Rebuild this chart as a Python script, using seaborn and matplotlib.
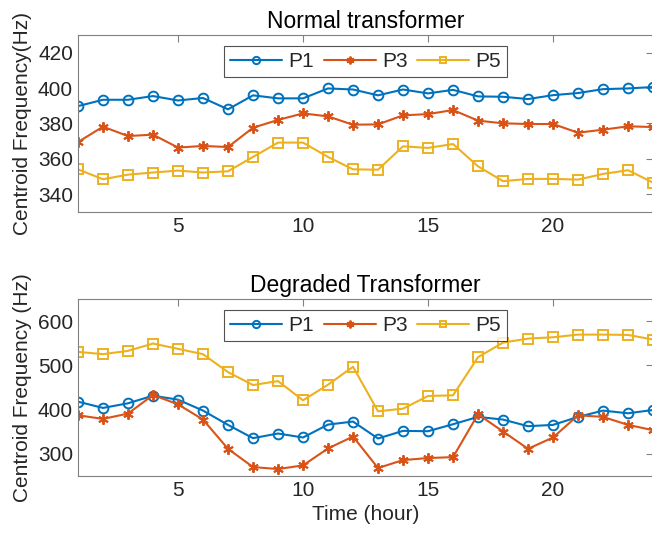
import matplotlib
matplotlib.use("Agg")
import matplotlib.pyplot as plt
import pandas as pd
import seaborn as sns

HOURS = list(range(1, 25))
SERIES = ["P1", "P3", "P5"]

NORMAL_P1 = [389.8, 393.4, 393.4, 395.5, 393.0, 394.4, 388.0, 395.9, 394.2, 394.2, 399.8, 399.2,
             395.9, 399.2, 397.0, 399.0, 395.3, 395.1, 393.8, 396.0, 397.2, 399.4, 399.8, 400.6]
NORMAL_P3 = [369.5, 378.2, 372.9, 373.7, 366.4, 367.3, 366.7, 377.6, 382.0, 385.7, 384.0, 379.3,
             379.5, 384.6, 385.3, 387.6, 381.6, 380.1, 379.7, 379.7, 374.8, 376.5, 378.4, 378.0]
NORMAL_P5 = [354.1, 348.5, 351.1, 352.3, 353.4, 352.3, 353.0, 361.1, 369.2, 369.2, 361.1, 354.1,
             353.9, 367.1, 366.2, 368.4, 355.8, 347.4, 348.7, 348.7, 348.3, 351.5, 353.6, 346.6]

DEGRADED_P1 = [418.0, 403.8, 414.3, 431.5, 422.5, 397.8, 365.5, 335.5, 346.0, 337.0, 366.2, 373.0,
               334.7, 352.0, 351.2, 367.0, 383.5, 377.5, 362.5, 365.5, 383.5, 397.8, 391.7, 399.2]
DEGRADED_P3 = [387.2, 379.0, 391.0, 433.0, 412.0, 377.5, 311.5, 270.2, 265.7, 274.0, 312.2, 339.2,
               268.0, 286.0, 290.5, 292.7, 389.5, 350.5, 311.5, 337.0, 387.2, 383.5, 365.5, 353.5]
DEGRADED_P5 = [530.5, 525.3, 532.8, 549.3, 537.3, 525.3, 484.8, 455.5, 464.5, 421.0, 456.3, 496.8,
               396.2, 402.2, 430.8, 432.3, 518.5, 551.5, 560.5, 563.5, 569.5, 569.5, 568.8, 558.3]

COLORS = {"P1": "#0072BD", "P3": "#D95319", "P5": "#EDB120"}
MARKERS = {"P1": "o", "P3": (6, 2, 0), "P5": "s"}
MSIZE = {"P1": 7, "P3": 7.5, "P5": 6.5}


def _frame(p1, p3, p5):
    return pd.DataFrame({"hour": HOURS, "P1": p1, "P3": p3, "P5": p5})


def draw_panel(ax, frame, title, ylabel, ylim, yticks):
    for name in SERIES:
        sns.lineplot(
            data=frame, x="hour", y=name, ax=ax, color=COLORS[name],
            marker=MARKERS[name], markersize=MSIZE[name],
            markerfacecolor="none", markeredgecolor=COLORS[name],
            markeredgewidth=1.4, linewidth=1.5, label=name,
        )
    ax.set_xlim(1, 24)
    ax.set_ylim(*ylim)
    ax.set_xticks([5, 10, 15, 20])
    ax.set_yticks(yticks)
    ax.set_title(title, fontsize=16.5, color="black", pad=5)
    ax.set_ylabel(ylabel, fontsize=15, color="#262626")
    ax.set_xlabel("")
    ax.tick_params(direction="in", top=True, right=True, length=5, width=0.8,
                   labelsize=15, colors="#262626", color="#808080")
    for spine in ax.spines.values():
        spine.set_color("#808080")
        spine.set_linewidth(0.8)
    leg = ax.legend(loc="upper center", bbox_to_anchor=(0.5, 0.935), ncol=3,
                    fontsize=15, frameon=True, fancybox=False, borderaxespad=0,
                    handlelength=2.5, handletextpad=0.3, columnspacing=0.45,
                    borderpad=0.28, markerscale=0.75)
    leg.get_frame().set_edgecolor("#262626")
    leg.get_frame().set_linewidth(0.8)


def main():
    sns.set_theme(style="white")
    plt.rcParams["font.family"] = ["Liberation Sans", "DejaVu Sans"]
    fig = plt.figure(figsize=(6.52, 5.44), dpi=100)
    ax_top = fig.add_axes([0.1196, 0.6103, 0.882, 0.3254])
    ax_bot = fig.add_axes([0.1196, 0.125, 0.882, 0.3254])

    draw_panel(ax_top, _frame(NORMAL_P1, NORMAL_P3, NORMAL_P5), "Normal transformer",
               "Centroid Frequency(Hz)", (330, 430), [340, 360, 380, 400, 420])
    draw_panel(ax_bot, _frame(DEGRADED_P1, DEGRADED_P3, DEGRADED_P5), "Degraded Transformer",
               "Centroid Frequency (Hz)", (250, 650), [300, 400, 500, 600])
    ax_bot.set_xlabel("Time (hour)", fontsize=15, color="#262626")

    fig.savefig("out.png", dpi=100)
    plt.close(fig)


if __name__ == "__main__":
    main()
